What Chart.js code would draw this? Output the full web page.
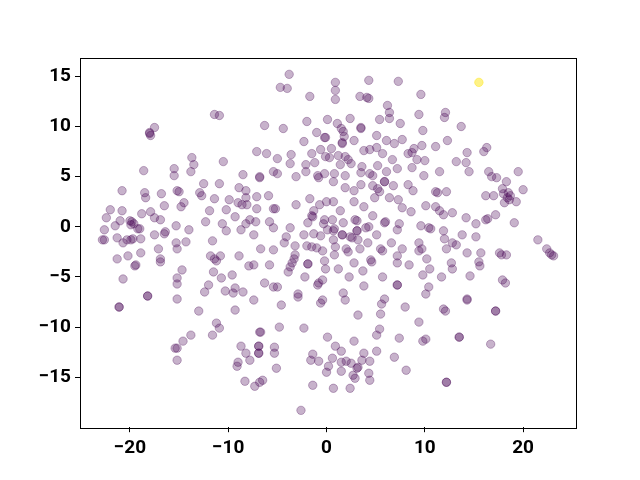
<!DOCTYPE html>
<html>
<head>
<meta charset="utf-8">
<script src="https://cdn.jsdelivr.net/npm/chart.js"></script>
<style>
  html, body { margin: 0; padding: 0; background: #fff; }
  #wrap { width: 640px; height: 480px; }
</style>
</head>
<body>
<div id="wrap"><canvas id="scatterChart" width="640" height="480"></canvas></div>
<script>
// Tick labels
const xTicks = [-20, -10, 0, 10, 20];
const yTicks = [-15, -10, -5, 0, 5, 10, 15];

// Label 0 points (purple)
const label0X = [
  -11.4, -10.9, -17.5, -18.0, -17.9, -18.0, -13.7, -10.5, -13.5, -18.6,
  -15.5, -15.5, -13.8, -8.5, -3.8, -4.7, -4.0, 0.9, 0.9, 0.9,
  4.3, 7.3, -1.7, 3.4, 4.1, 4.3, 6.2, 6.4, 6.4, 5.4,
  7.5, -6.3, -4.4, -2.0, 0.1, 2.4, 1.1, 1.5, 1.7, 3.5,
  3.5, -1.0, -0.2, -0.1, 1.8, -2.3, 2.8, 5.1, 6.1, 7.7,
  6.9, 1.6, 1.6, -7.1, -6.1, -5.0, -3.6, -1.5, -0.6, 0.5,
  -0.1, 0.3, 1.2, 1.9, 2.2, 2.5, 3.8, 4.4, 5.1, 5.7,
  6.7, 8.3, 8.7, 8.9, -3.7, -2.1, -1.2, 1.4, 3.6, 5.2,
  7.2, 8.7, -6.8, -6.8, -5.4, -5.0, -3.1, -2.1, -0.9, -0.8,
  -0.2, 0.8, 1.9, 3.5, 4.4, 4.7, 6.1, 9.6, 9.4, 12.1,
  12.0, 9.8, 13.7, 12.3, 9.7, 11.1, 14.3, 16.3, 16.0, 9.2,
  10.0, 13.2, 14.2, 11.5, 14.5, 9.9, 16.5, 16.8, 17.3, 18.3,
  19.5, 8.8, 11.1, 11.3, 12.2, 17.9, 20.0, 16.2, 17.0, 18.0,
  18.5, 18.7, 18.4, 18.6, 18.1, 19.3, 10.1, 11.1, 11.5, 11.9,
  12.8, 8.6, 14.2, 16.2, 16.4, 17.2, 15.2, 19.1, 9.6, 10.4,
  10.6, 11.9, 13.8, 15.2, 12.0, 12.8, 13.2, 9.4, 21.5, 22.4,
  22.7, 23.1, 22.9, 9.7, 9.4, 12.2, 14.3, 15.7, 17.6, 17.8,
  18.3, 10.2, 12.7, 12.8, 15.5, 15.6, 8.4, 10.5, 9.8, 11.7,
  14.6, 17.9, 18.2, 10.4, 10.1, 14.3, 14.3, 11.9, 12.1, 17.2,
  17.2, 9.4, 10.1, 9.8, 13.5, 13.5, 16.7, 12.2, 12.2, -4.6,
  -0.6, -0.4, 1.9, 5.9, 5.6, 8.0, 3.2, 5.5, -6.8, -6.7,
  -4.8, -2.3, 5.4, 5.1, 7.4, 0.1, 2.8, -8.2, -7.8, -6.9,
  -6.9, -6.9, -6.9, -5.3, -5.3, -5.1, -1.4, -1.6, -0.8, 0.9,
  1.5, 0.6, 0.2, 0.0, 1.5, 2.0, 2.5, 3.2, 3.1, 3.6,
  3.8, 4.4, 5.1, 6.9, 1.5, 2.7, 2.9, 4.3, 4.4, 8.1,
  -8.3, -7.3, -6.8, -6.5, -1.4, 0.7, 2.4, -2.6, -21.1, -21.1,
  -18.2, -18.2, -15.2, -13.0, -9.3, -11.2, -10.9, -11.6, -13.8, -14.6,
  -15.4, -15.2, -15.2, -8.7, -9.0, -9.1, -20.8, -18.5, -18.4, -16.8,
  -15.2, -15.0, -12.9, -12.7, -12.5, -10.9, -11.4, -9.9, -8.9, -8.2,
  -9.0, -8.6, -8.1, -8.2, -14.5, -14.8, -16.5, -22.0, -20.8, -18.8,
  -17.9, -11.9, -10.2, -22.4, -21.0, -21.5, -20.0, -19.8, -19.6, -17.5,
  -16.9, -19.0, -19.2, -19.9, -15.3, -14.0, -12.3, -10.6, -9.3, -8.2,
  -7.8, -10.2, -8.7, -22.6, -22.8, -22.6, -21.3, -20.7, -20.3, -19.9,
  -19.7, -18.9, -17.5, -16.4, -16.5, -15.3, -15.2, -14.3, -11.6, -17.1,
  -18.9, -20.2, -21.3, -16.9, -16.9, -19.4, -19.5, -11.8, -11.4, -11.2,
  -10.8, -8.9, -7.9, -14.7, -11.5, -20.7, -15.2, -15.2, -10.7, -9.6,
  -12.0, -12.4, -10.3, -9.5, -9.3, -8.5, 0.7, 1.9, 2.8, 3.5,
  4.7, 5.2, 5.4, 5.9, 5.9, 6.8, 8.3, -7.1, -7.1, -5.9,
  -5.4, -5.2, -3.1, -1.7, -0.7, 0.0, 0.7, -1.3, -1.5, 1.4,
  2.8, 3.8, 4.9, 6.4, 7.3, 7.7, 4.7, -7.2, -5.8, -5.4,
  -3.7, -1.9, -1.4, -0.3, -0.2, 0.6, 0.8, 0.7, 1.7, 2.9,
  3.1, 0.1, 4.0, 4.3, 3.1, 3.1, 6.0, 5.9, 7.2, 7.4,
  -7.4, -4.1, -4.3, -3.2, -2.3, -1.3, -0.6, 0.7, 1.6, 1.6,
  2.4, 2.6, 3.2, 4.2, 5.1, 6.6, -6.7, -5.4, -2.0, -1.5,
  -1.0, -0.4, 0.9, 2.0, 2.2, 3.4, 5.5, 5.7, 7.7, -3.2,
  -3.3, -3.5, -3.7, -3.9, -0.2, -0.1, 0.8, 2.8, 4.6, 4.5,
  7.2, 7.2, -7.4, -5.8, -1.9, -1.9, 1.2, 3.7, 5.7, -2.2,
  -0.4, -0.8, -0.9, 2.3, -6.3, -5.4, -5.0, 3.8, 7.2, 7.2,
  1.7, -2.9, -2.9, -7.4
];
const label0Y = [
  11.2, 11.1, 9.9, 9.4, 9.1, 9.3, 6.9, 6.5, 6.2, 5.6,
  5.8, 5.1, 5.5, 5.2, 15.2, 13.9, 13.8, 14.4, 13.6, 12.7,
  14.6, 14.5, 13.0, 13.0, 12.9, 12.8, 12.1, 11.4, 10.8, 10.7,
  10.3, 10.1, 9.8, 10.5, 10.7, 10.8, 10.3, 9.8, 9.5, 9.9,
  9.8, 9.4, 8.9, 8.9, 9.0, 8.5, 8.6, 9.1, 8.6, 8.7,
  8.3, 8.3, 8.4, 7.5, 7.3, 6.8, 7.2, 7.3, 7.7, 7.8,
  7.0, 6.9, 7.1, 7.0, 6.7, 6.3, 7.6, 7.7, 7.9, 7.3,
  6.7, 7.3, 7.4, 7.8, 6.3, 6.2, 6.4, 6.2, 6.0, 6.1,
  5.8, 5.9, 4.9, 5.0, 5.5, 5.3, 5.0, 5.5, 5.1, 4.9,
  5.3, 5.3, 5.1, 5.4, 5.3, 5.1, 5.5, 13.2, 11.2, 11.4,
  10.9, 9.6, 10.0, 8.6, 8.1, 8.0, 7.4, 7.9, 7.5, 6.7,
  6.6, 6.5, 6.4, 5.5, 5.5, 5.1, 5.5, 5.0, 4.9, 4.5,
  5.5, 3.6, 3.5, 3.4, 3.5, 3.8, 3.7, 3.1, 3.1, 3.3,
  3.4, 3.1, 2.9, 2.7, 2.4, 2.5, 2.1, 2.0, 1.6, 1.2,
  1.4, 1.5, 0.9, 0.7, 0.8, 1.2, 0.3, 0.4, 0.1, -0.1,
  -0.2, -0.4, -0.8, -1.0, -1.2, -1.6, -1.8, -1.6, -1.3, -2.2,
  -2.6, -2.9, -2.8, -2.2, -2.4, -2.2, -2.6, -2.6, -2.6, -2.8,
  -2.8, -3.2, -3.6, -4.2, -3.5, -3.9, -3.8, -4.2, -4.8, -5.0,
  -4.9, -5.3, -5.6, -6.0, -6.7, -7.2, -7.3, -8.2, -8.4, -8.4,
  -8.4, -9.5, -11.2, -11.4, -11.0, -11.0, -11.7, -15.5, -15.5, -7.8,
  -7.6, -7.3, -7.3, -7.2, -7.7, -8.0, -8.8, -8.7, -10.5, -10.5,
  -10.0, -10.1, -10.2, -10.8, -11.1, -11.0, -11.4, -12.6, -13.3, -11.9,
  -11.9, -12.6, -12.6, -12.0, -12.6, -14.1, -12.7, -13.3, -13.4, -11.9,
  -12.4, -13.1, -13.9, -14.5, -13.5, -13.4, -13.6, -14.0, -14.1, -13.3,
  -12.6, -13.4, -12.4, -13.0, -14.4, -14.8, -15.1, -14.6, -15.3, -14.3,
  -15.4, -15.9, -15.5, -15.3, -15.8, -16.1, -16.1, -18.3, -8.0, -8.0,
  -6.9, -6.9, -7.2, -8.4, -8.3, -9.6, -10.1, -10.8, -10.8, -11.4,
  -12.1, -12.1, -13.3, -11.9, -13.5, -13.9, 3.6, 3.4, 2.9, 3.3,
  3.6, 3.5, 3.4, 3.1, 4.3, 4.3, 2.8, 2.7, 3.9, 3.6,
  2.4, 2.2, 2.2, 2.9, 2.4, 2.0, 2.1, 1.7, 1.6, 1.3,
  1.5, 1.6, 1.7, 0.9, 0.6, 0.1, 0.6, 0.5, 0.3, 0.9,
  0.7, -0.2, -0.2, 0.2, 0.1, -0.3, 0.5, 0.3, 1.0, 0.3,
  0.7, -0.4, -0.3, -0.3, -1.3, -1.3, -1.1, -1.6, -1.3, -1.3,
  -1.2, -1.2, -0.8, -0.5, -0.7, -1.6, -2.2, -1.5, -1.4, -2.2,
  -2.6, -2.9, -3.2, -3.2, -3.5, -3.8, -3.9, -2.9, -3.2, -3.4,
  -2.9, -2.9, -3.9, -4.3, -4.5, -5.2, -5.1, -5.7, -5.1, -4.8,
  -5.8, -6.5, -6.4, -6.6, -6.1, -6.5, 4.5, 3.9, 3.6, 4.2,
  4.1, 3.8, 3.5, 4.5, 4.5, 4.1, 4.2, 1.8, 3.0, 3.1,
  1.8, 1.8, 2.2, 2.8, 2.2, 2.5, 2.5, 1.6, 1.1, 1.6,
  2.5, 2.0, 2.9, 2.9, 2.7, 1.9, 1.1, 0.5, 0.5, -0.1,
  -0.1, 0.4, 1.0, 0.3, 0.7, 0.7, -0.2, -0.4, 0.4, 0.7,
  0.6, -0.3, -0.1, 0.0, -0.4, -0.4, 0.5, 0.4, -0.3, 0.3,
  -0.8, -1.0, -1.6, -1.9, -0.8, -0.7, -0.9, -1.3, -0.8, -0.8,
  -1.0, -1.1, -1.3, -1.6, -0.8, -1.6, -2.2, -2.3, -1.9, -2.0,
  -2.1, -2.4, -2.0, -2.2, -2.5, -2.2, -2.2, -2.4, -2.2, -2.8,
  -3.2, -3.6, -4.0, -4.5, -3.4, -4.2, -2.8, -3.6, -3.5, -3.3,
  -2.9, -3.6, -3.8, -3.8, -3.7, -3.7, -4.2, -4.4, -5.0, -5.0,
  -5.3, -5.6, -5.8, -5.0, -5.6, -6.0, -6.0, -5.9, -5.8, -5.8,
  -6.6, -6.7, -7.0, -7.3
];

// Label 1 point (yellow)
const label1X = [15.5];
const label1Y = [14.4];

function toPoints(xs, ys) {
  return xs.map((x, i) => ({ x: x, y: ys[i] }));
}

// matplotlib style minus sign
function fmt(v) {
  return v < 0 ? '\u2212' + Math.abs(v) : String(v);
}

// box around the plot area
const frame = {
  id: 'frame',
  afterDraw(chart) {
    const a = chart.chartArea;
    const c = chart.ctx;
    c.save();
    c.strokeStyle = '#000';
    c.lineWidth = 1;
    c.strokeRect(Math.round(a.left) + 0.5, Math.round(a.top) + 0.5,
      Math.round(a.right - a.left), Math.round(a.bottom - a.top));
    c.restore();
  }
};

const tickFont = { family: 'Roboto', size: 19, weight: 'bold' };

const ctx = document.getElementById('scatterChart').getContext('2d');
const chart = new Chart(ctx, {
  type: 'scatter',
  data: {
    datasets: [{
      label: '0',
      data: toPoints(label0X, label0Y),
      backgroundColor: 'rgba(68, 1, 84, 0.3)',
      borderColor: 'rgba(68, 1, 84, 0.3)',
      borderWidth: 1,
      pointRadius: 4.2,
      pointHoverRadius: 4.2
    }, {
      label: '1',
      data: toPoints(label1X, label1Y),
      backgroundColor: 'rgba(253, 231, 37, 0.55)',
      borderColor: 'rgba(253, 231, 37, 0.55)',
      borderWidth: 1,
      pointRadius: 4.2,
      pointHoverRadius: 4.2
    }]
  },
  options: {
    responsive: false,
    animation: false,
    devicePixelRatio: 1,
    layout: { padding: { left: 0, right: 64, top: 57.6, bottom: 0 } },
    plugins: {
      legend: { display: false },
      tooltip: { enabled: false }
    },
    scales: {
      x: {
        type: 'linear',
        min: -25.08,
        max: 25.38,
        afterBuildTicks: s => { s.ticks = xTicks.map(v => ({ value: v })); },
        afterFit: s => { s.height = 52.8; },
        grid: { drawOnChartArea: false, drawTicks: true, tickLength: 5, color: '#000', lineWidth: 1 },
        border: { display: false },
        ticks: { color: '#000', font: tickFont, padding: 5, maxRotation: 0, autoSkip: false, callback: fmt }
      },
      y: {
        type: 'linear',
        min: -19.98,
        max: 16.87,
        afterBuildTicks: s => { s.ticks = yTicks.map(v => ({ value: v })); },
        afterFit: s => { s.width = 80; },
        grid: { drawOnChartArea: false, drawTicks: true, tickLength: 5, color: '#000', lineWidth: 1 },
        border: { display: false },
        ticks: { color: '#000', font: tickFont, padding: 4, autoSkip: false, callback: fmt }
      }
    }
  },
  plugins: [frame]
});
</script>
</body>
</html>
